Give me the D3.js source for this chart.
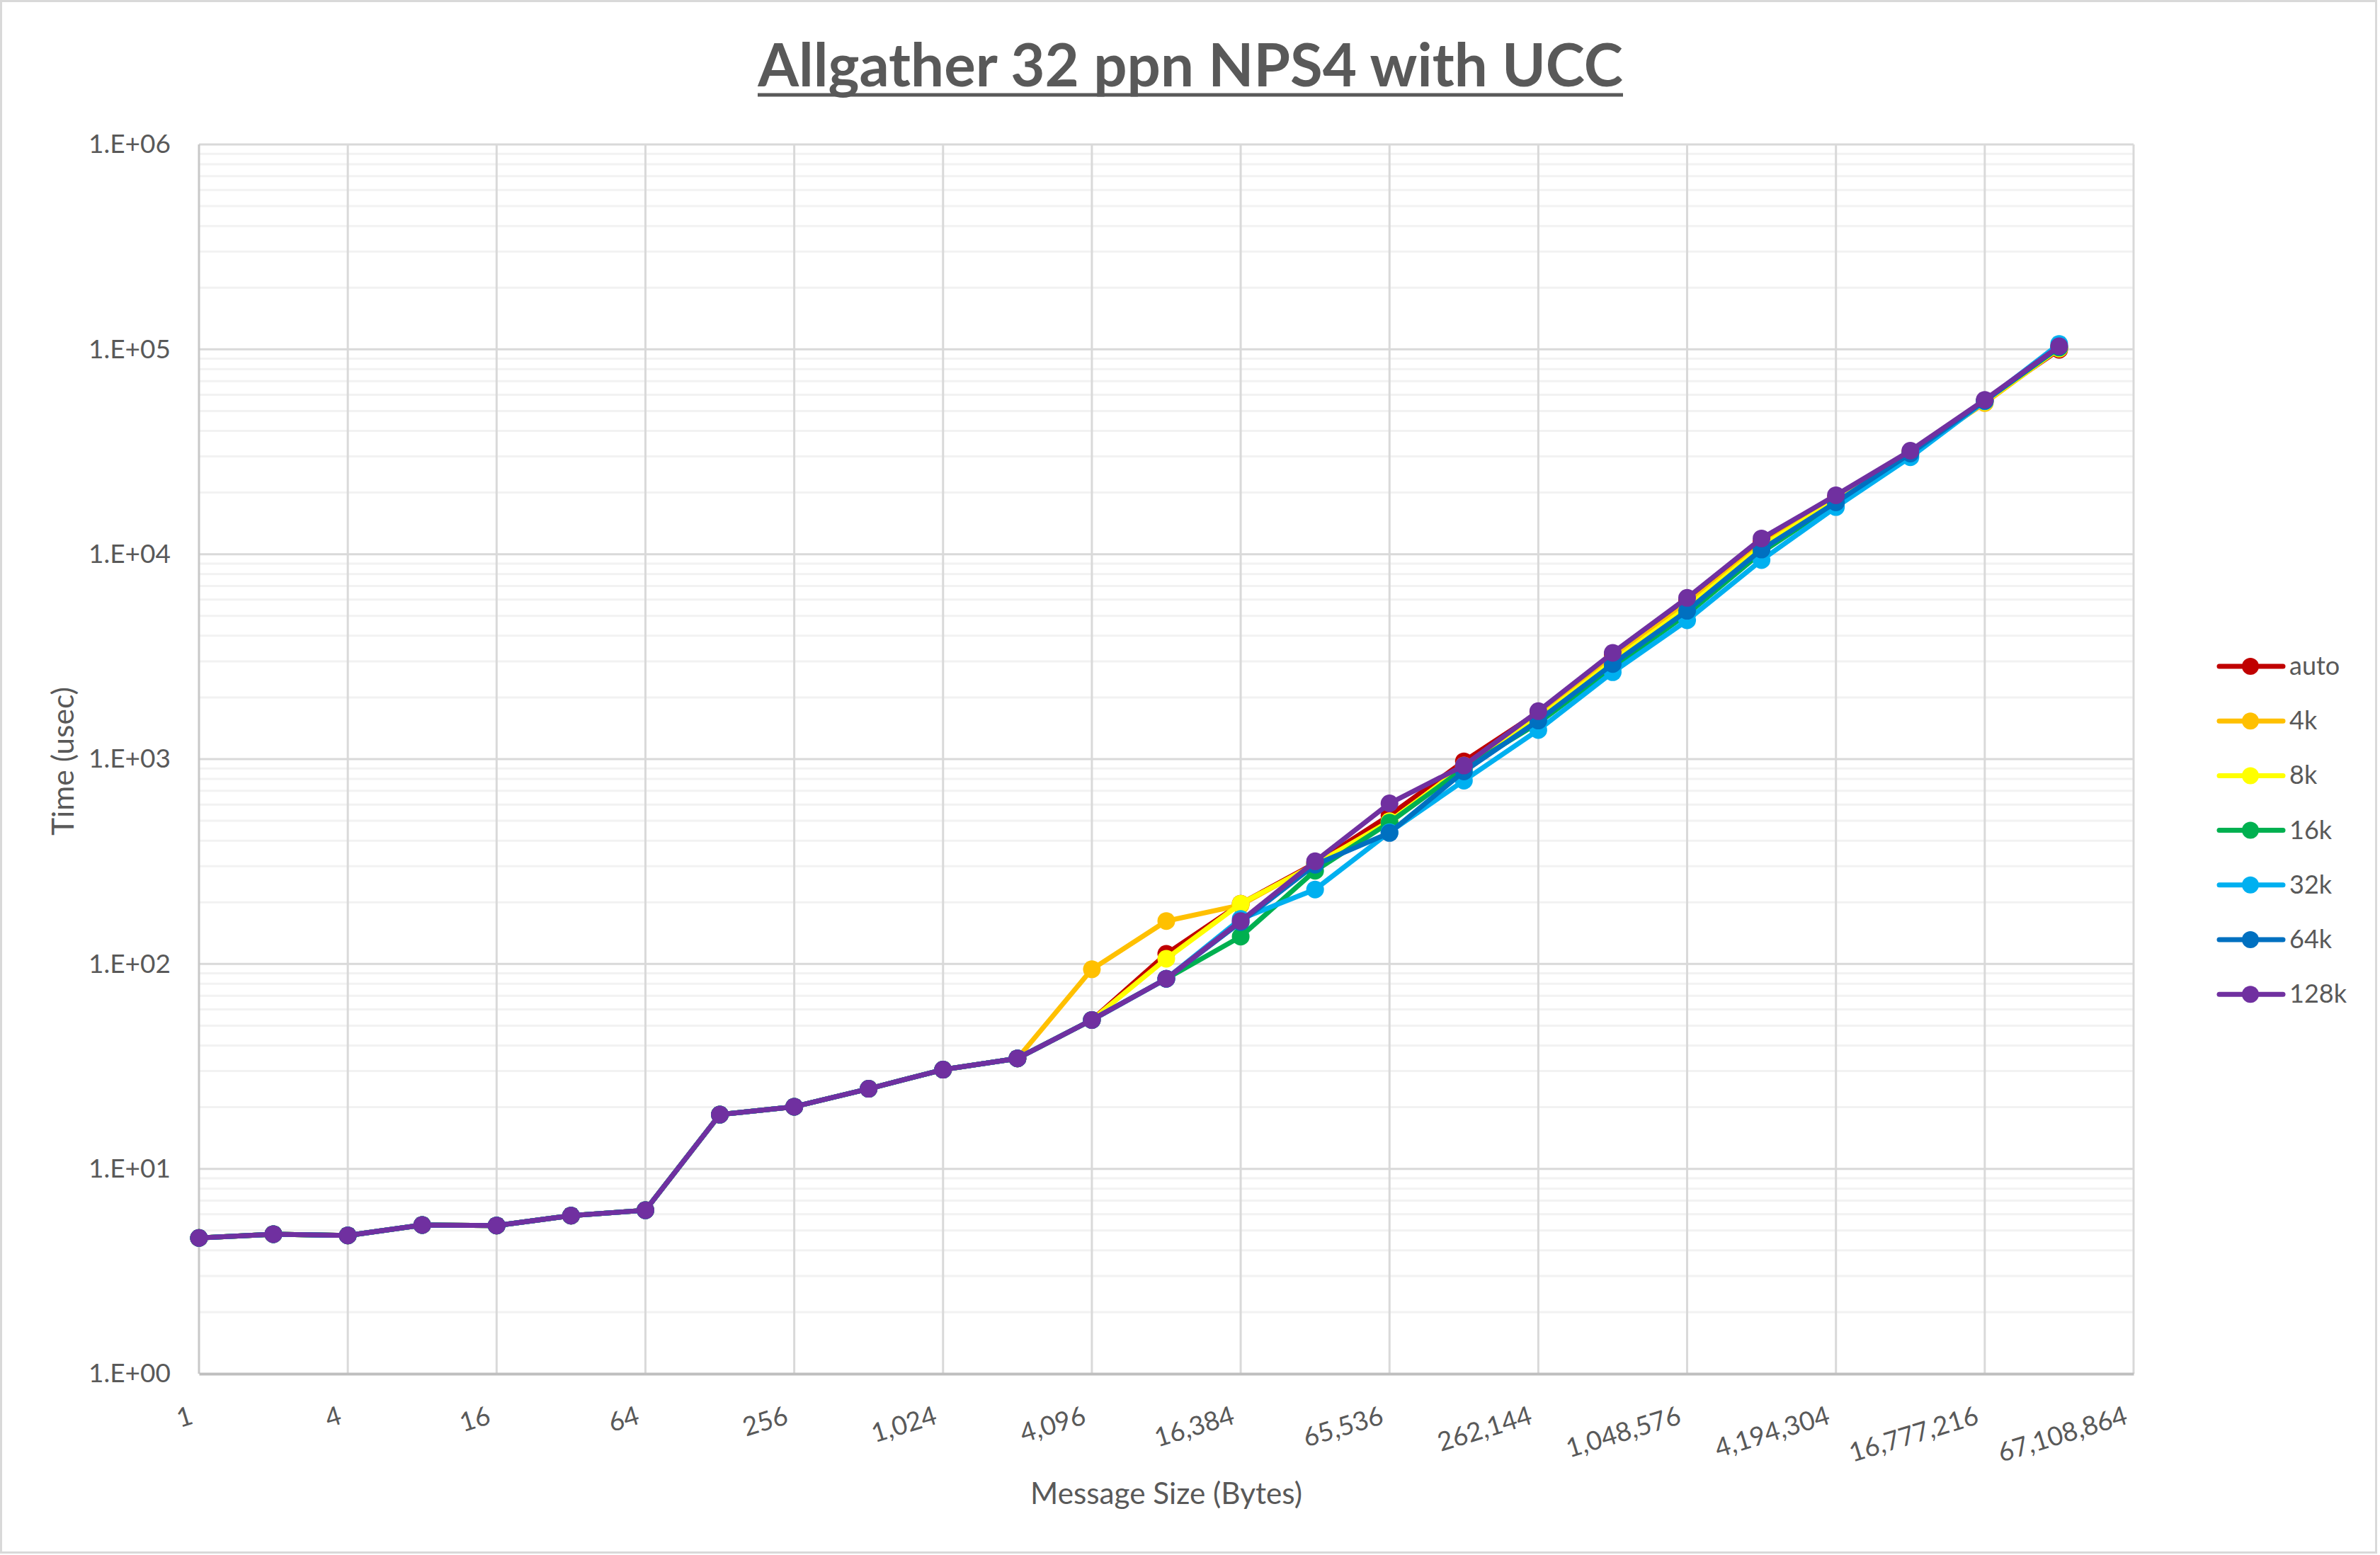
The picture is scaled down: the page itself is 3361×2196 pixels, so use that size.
<!DOCTYPE html>
<html>
<head>
<meta charset="utf-8">
<script src="https://cdn.jsdelivr.net/npm/d3@7"></script>
<style>
  html, body { margin: 0; padding: 0; background: #ffffff; }
  svg { display: block; }
  text { font-family: Lato, "Open Sans", sans-serif; fill: #595959; }
</style>
</head>
<body>
<svg id="chart" width="3361" height="2196"></svg>
<script>
// ---------------- DATA ----------------
const messageSizes = [1, 2, 4, 8, 16, 32, 64, 128, 256, 512, 1024, 2048, 4096, 8192, 16384, 32768,
  65536, 131072, 262144, 524288, 1048576, 2097152, 4194304, 8388608, 16777216, 33554432];

const seriesNames = ["auto", "4k", "8k", "16k", "32k", "64k", "128k"];
const seriesColors = ["#C00000", "#FFC000", "#FFFF00", "#00B050", "#00B0F0", "#0070C0", "#7030A0"];

const autoValues = [4.6, 4.8, 4.73, 5.32, 5.29, 5.91, 6.28, 18.4, 20.1, 24.6, 30.5, 34.6,
  53.3, 112, 197, 310, 531, 975, 1690, 3220, 5950, 11500, 19000, 31500, 56000, 99500];
const k4Values = [4.6, 4.8, 4.73, 5.32, 5.29, 5.91, 6.28, 18.4, 20.1, 24.6, 30.5, 34.6,
  94.2, 162, 194, 308, 490, 930, 1620, 3100, 5700, 11100, 18600, 31200, 54700, 101000];
const k8Values = [4.6, 4.8, 4.73, 5.32, 5.29, 5.91, 6.28, 18.4, 20.1, 24.6, 30.5, 34.6,
  53.3, 106, 197, 305, 497, 920, 1580, 3000, 5500, 10900, 18400, 31000, 55500, 101000];
const k16Values = [4.6, 4.8, 4.73, 5.32, 5.29, 5.91, 6.28, 18.4, 20.1, 24.6, 30.5, 34.6,
  53.3, 84.7, 136, 285, 490, 900, 1500, 2800, 5100, 10200, 17800, 30800, 56000, 102000];
const k32Values = [4.6, 4.8, 4.73, 5.32, 5.29, 5.91, 6.28, 18.4, 20.1, 24.6, 30.5, 34.6,
  53.3, 84.7, 166, 231, 440, 785, 1387, 2654, 4757, 9360, 16990, 29750, 55800, 106300];
const k64Values = [4.6, 4.8, 4.73, 5.32, 5.29, 5.91, 6.28, 18.4, 20.1, 24.6, 30.5, 34.6,
  53.3, 84.7, 160, 305, 436, 870, 1542, 2911, 5295, 10540, 17900, 31000, 56000, 103000];
const k128Values = [4.6, 4.8, 4.73, 5.32, 5.29, 5.91, 6.28, 18.4, 20.1, 24.6, 30.5, 34.6,
  53.3, 84.7, 162, 317, 608, 930, 1714, 3300, 6120, 11940, 19400, 32000, 56700, 103500];

const xTickValues = [1, 4, 16, 64, 256, 1024, 4096, 16384, 65536, 262144, 1048576, 4194304, 16777216, 67108864];
const yTickValues = [1, 10, 100, 1000, 10000, 100000, 1000000];
const yTickLabels = ["1.E+00", "1.E+01", "1.E+02", "1.E+03", "1.E+04", "1.E+05", "1.E+06"];

const titleText = "Allgather 32 ppn NPS4 with UCC";
const xAxisTitle = "Message Size (Bytes)";
const yAxisTitle = "Time (usec)";

// ---------------- LAYOUT ----------------
const W = 3361, H = 2196;
const plot = { left: 281, right: 3013, top: 204, bottom: 1940 };

const svg = d3.select("#chart");
svg.append("rect").attr("x", 0).attr("y", 0).attr("width", W).attr("height", H).attr("fill", "#ffffff");
svg.append("rect").attr("x", 1.5).attr("y", 1.5).attr("width", W - 7).attr("height", H - 5)
  .attr("fill", "none").attr("stroke", "#d9d9d9").attr("stroke-width", 3);

const x = d3.scaleLog().base(4).domain([1, 67108864]).range([plot.left, plot.right]);
const y = d3.scaleLog().base(10).domain([1, 1000000]).range([plot.bottom, plot.top]);

// minor horizontal gridlines
const minorVals = [];
for (let e = 0; e < 6; e++) for (let m = 2; m <= 9; m++) minorVals.push(m * Math.pow(10, e));
svg.append("g").selectAll("line").data(minorVals).join("line")
  .attr("x1", plot.left).attr("x2", plot.right)
  .attr("y1", d => y(d)).attr("y2", d => y(d))
  .attr("stroke", "#f2f2f2").attr("stroke-width", 3);

// major horizontal gridlines
svg.append("g").selectAll("line").data(yTickValues.slice(1)).join("line")
  .attr("x1", plot.left).attr("x2", plot.right)
  .attr("y1", d => y(d)).attr("y2", d => y(d))
  .attr("stroke", "#d9d9d9").attr("stroke-width", 3);

// vertical gridlines
svg.append("g").selectAll("line").data(xTickValues.slice(1)).join("line")
  .attr("x1", d => x(d)).attr("x2", d => x(d))
  .attr("y1", plot.top).attr("y2", plot.bottom)
  .attr("stroke", "#d9d9d9").attr("stroke-width", 3);

// left axis line
svg.append("line").attr("x1", plot.left).attr("x2", plot.left).attr("y1", plot.top).attr("y2", plot.bottom)
  .attr("stroke", "#c8c8c8").attr("stroke-width", 3);

// Y axis labels
const yAxis = d3.axisLeft(y).tickValues(yTickValues)
  .tickFormat((d, i) => yTickLabels[i]).tickSize(0).tickPadding(40);
const yg = svg.append("g").attr("transform", `translate(${plot.left},0)`).call(yAxis);
yg.select(".domain").remove();
yg.selectAll("text").attr("font-size", 37).attr("fill", "#595959")
  .style("font-family", "Lato, 'Open Sans', sans-serif");

// X axis (bottom)
const xAxis = d3.axisBottom(x).tickValues(xTickValues).tickFormat(d3.format(",")).tickSize(0);
const xg = svg.append("g").attr("transform", `translate(0,${plot.bottom})`).call(xAxis);
xg.select(".domain").attr("stroke", "#bfbfbf").attr("stroke-width", 4);
xg.selectAll(".tick text")
  .attr("font-size", 37).attr("fill", "#595959")
  .style("font-family", "Lato, 'Open Sans', sans-serif")
  .attr("text-anchor", "end").attr("dy", null).attr("y", null)
  .attr("transform", "translate(-7,70) rotate(-17)");

// ---------------- SERIES ----------------
const allSeries = [autoValues, k4Values, k8Values, k16Values, k32Values, k64Values, k128Values];
const line = d3.line().x((d, i) => x(messageSizes[i])).y(d => y(d));

allSeries.forEach((vals, si) => {
  const g = svg.append("g");
  g.append("path").datum(vals).attr("d", line)
    .attr("fill", "none").attr("stroke", seriesColors[si]).attr("stroke-width", 7)
    .attr("stroke-linejoin", "round").attr("stroke-linecap", "round");
  g.selectAll("circle").data(vals).join("circle")
    .attr("cx", (d, i) => x(messageSizes[i])).attr("cy", d => y(d))
    .attr("r", 12.5).attr("fill", seriesColors[si]);
});

// ---------------- LEGEND ----------------
const legend = svg.append("g");
seriesNames.forEach((name, i) => {
  const cy = 941 + i * 77.2;
  legend.append("line").attr("x1", 3134).attr("x2", 3224).attr("y1", cy).attr("y2", cy)
    .attr("stroke", seriesColors[i]).attr("stroke-width", 7).attr("stroke-linecap", "round");
  legend.append("circle").attr("cx", 3178).attr("cy", cy).attr("r", 12).attr("fill", seriesColors[i]);
  legend.append("text").attr("x", 3233).attr("y", cy + 12).attr("font-size", 36).text(name);
});

// ---------------- TITLES ----------------
function fitWidth(sel, target) {
  const w = sel.node().getComputedTextLength();
  const fs = parseFloat(sel.attr("font-size"));
  sel.attr("font-size", fs * target / w);
}

const title = svg.append("text").attr("x", 1681).attr("y", 122).attr("text-anchor", "middle")
  .attr("font-size", 84).attr("font-weight", "bold").text(titleText);
fitWidth(title, 1222);
// underline
svg.append("line").attr("x1", 1070).attr("x2", 2292).attr("y1", 134).attr("y2", 134)
  .attr("stroke", "#595959").attr("stroke-width", 5);

const xt = svg.append("text").attr("x", 1647).attr("y", 2124).attr("text-anchor", "middle")
  .attr("font-size", 38).text(xAxisTitle);
fitWidth(xt, 384);

const yt = svg.append("text").attr("transform", "translate(104,1075) rotate(-90)")
  .attr("text-anchor", "middle").attr("font-size", 40).text(yAxisTitle);
fitWidth(yt, 210);
</script>
</body>
</html>
